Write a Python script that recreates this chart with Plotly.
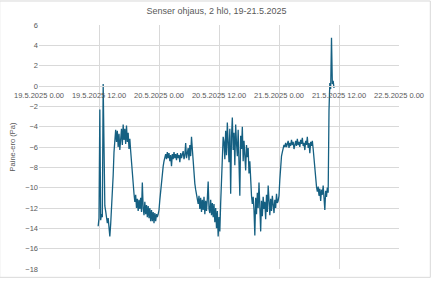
import pandas as pd
import plotly.graph_objects as go

# Sampling: one reading every 10 minutes starting 19.5.2025 11:50
start_time = "2025-05-19 11:50"
step_minutes = 10

pressure_pa = [
    # start, two spikes
    -13.8, -13.0, -2.3, -13.2, -12.6, -12.9, 0.2, -10.6, -11.8, -12.3,
    -12.9, -13.5, -13.0, -14.0, -14.8, -13.6, -12.2, -10.3, -8.8, -6.5,
    -4.6,
    # plateau 1
    -4.3, -5.5, -4.4, -6.0, -4.7, -6.3, -4.9, -4.2, -5.8, -3.8,
    -5.3, -4.2, -5.7, -3.9, -5.5, -4.6, -6.2, -5.2,
    # decline
    -6.4, -7.6, -8.9, -9.8, -10.6,
    # night low 1
    -11.4, -10.7, -12.0, -11.1, -12.3, -11.2, -12.1, -11.0, -12.4, -9.5,
    -12.0, -12.7, -11.4, -12.6, -11.7, -12.9, -11.8, -13.0, -12.0, -13.3,
    -12.2, -13.3, -12.4, -13.5, -12.5, -13.3, -12.6, -12.9,
    # rise
    -12.6, -12.2, -11.2, -10.2, -9.4, -8.6, -7.9, -7.4, -7.0,
    # plateau 2
    -6.7, -7.2, -6.5, -7.1, -6.6, -7.4, -6.8, -7.9, -6.7, -7.2,
    -6.5, -7.1, -6.7, -7.3, -6.6, -7.1, -6.8, -7.5, -6.6, -7.1,
    -6.7, -6.4, -7.2, -6.8, -5.6, -7.1, -6.6, -6.1, -7.3, -5.8,
    -6.9, -5.0, -6.2,
    # decline
    -7.6, -8.7, -9.6, -10.2, -10.8, -11.1,
    # low 2
    -11.6, -10.8, -12.1, -11.0, -12.4, -11.2, -12.2, -10.9, -12.6, -11.3,
    -12.3, -11.1, -9.4, -12.1, -12.5, -11.2, -12.7, -11.5, -12.9, -11.6,
    -13.4, -12.0, -14.0, -12.3, -14.8, -12.9, -14.3, -11.5,
    # rise
    -9.0, -6.5, -5.0,
    # noisy plateau 3
    -5.5, -7.2, -4.4, -6.8, -3.6, -5.9, -7.5, -4.2, -10.6, -5.0,
    -3.1, -6.3, -4.6, -7.8, -3.8, -5.6, -6.9, -4.3, -7.1, -10.8,
    -4.9, -6.2, -4.0, -7.4, -5.4, -6.6, -8.3, -5.8, -7.0, -6.1,
    -8.6,
    # decline
    -7.4, -9.6, -10.8, -11.6, -10.9,
    # night low 3
    -12.2, -14.7, -11.0, -12.6, -10.5, -12.0, -9.5, -11.8, -14.3, -11.3,
    -12.8, -10.9, -12.1, -11.4, -13.1, -10.7, -12.4, -9.8, -11.9, -12.7,
    -11.1, -12.3, -10.8, -11.8, -12.5, -11.2, -12.0, -10.6, -11.5, -11.3,
    # rise
    -10.8, -9.2, -7.4, -6.9, -6.5, -6.1, -5.8, -6.0,
    # plateau 4
    -5.6, -6.0, -5.7, -5.4, -6.1, -5.6, -5.9, -5.3, -5.8, -5.5,
    -6.2, -5.7, -5.4, -5.9, -5.2, -5.8, -5.5, -6.0, -5.3, -5.7,
    -5.1, -5.9, -5.6, -6.3, -5.4, -5.8, -5.0, -6.1, -5.6, -6.6,
    -5.5, -5.9, -5.4, -6.2,
    # decline
    -7.2, -8.5, -9.4, -9.9,
    # low 4
    -10.4, -9.9, -10.8, -10.1, -11.3, -10.2, -10.7, -9.8, -11.0, -12.2,
    -10.3, -10.9, -10.0, -10.5,
    # final jump
    -2.4, 0.3, -0.3, 4.75, 0.2, 0.5, -0.2,
]

times = pd.date_range(start=start_time, periods=len(pressure_pa), freq=f"{step_minutes}min")

title_text = "Senser ohjaus, 2 hlö, 19-21.5.2025"
y_title = "Paine-ero (Pa)"
x_range = ["2025-05-19 00:00", "2025-05-22 00:00"]
y_range = [-18, 6]

grid = "#D9D9D9"
text_col = "#595959"
font_family = "Liberation Sans, Arial, sans-serif"

fig = go.Figure()
fig.add_trace(go.Scatter(
    x=times, y=pressure_pa, mode="lines",
    line=dict(color="#156082", width=1.3),
    showlegend=False,
))

fig.update_layout(
    width=433, height=283,
    margin=dict(l=39, r=32, t=25, b=9),
    paper_bgcolor="white", plot_bgcolor="white",
    font=dict(family=font_family, size=7.5, color=text_col),
    title=dict(text=title_text, x=0.5, xanchor="center", y=0.96, yanchor="middle",
               font=dict(size=9, color=text_col, family=font_family)),
    xaxis=dict(
        type="date", range=x_range, dtick=12 * 3600 * 1000,
        tick0="2025-05-19 00:00",
        tickformat="%-d.%-m.%Y %-H.%M",
        showgrid=True, gridcolor=grid, gridwidth=1,
        anchor="free", position=(0 - y_range[0]) / (y_range[1] - y_range[0]),
        showline=True, linecolor=grid, linewidth=1,
        zeroline=False, ticks="outside", ticklen=2, tickcolor="rgba(0,0,0,0)",
        tickfont=dict(size=7.5, color=text_col),
    ),
    yaxis=dict(
        range=y_range, dtick=2, showgrid=True, gridcolor=grid, gridwidth=1,
        zeroline=False, showline=False, ticks="",
        tickfont=dict(size=7.5, color=text_col),
        title=dict(text=y_title, font=dict(size=7.5, color=text_col), standoff=8),
    ),
)

# outer chart border
fig.add_shape(type="rect", xref="paper", yref="paper",
              x0=-39.5 / 362, x1=1 + 31.5 / 362, y0=-8.5 / 249, y1=1 + 24.5 / 249,
              line=dict(color="#D9D9D9", width=1), layer="above")

fig.write_html("out.html")
